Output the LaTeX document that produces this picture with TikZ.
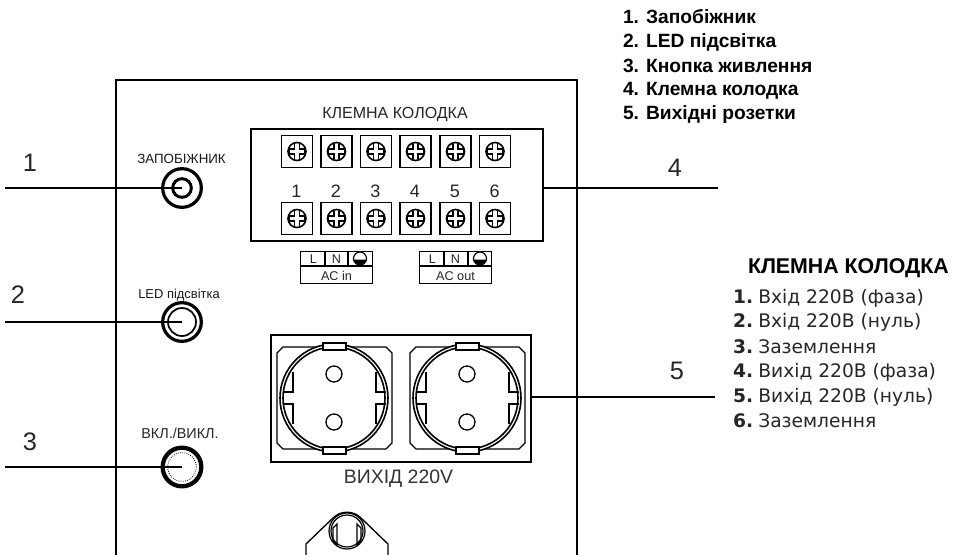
\documentclass[tikz,border=0pt]{standalone}
\usepackage{fontspec}
\setmainfont{Liberation Sans}
\newfontfamily\dejavu{DejaVu Sans}
\usetikzlibrary{calc}
\tikzset{
  x=0.75pt,y=-0.75pt,
  every node/.style={inner sep=0pt,outer sep=0pt},
  heavy/.style={draw=black,line width=1.7pt},
  med/.style={draw=black,line width=1.2pt},
  lead/.style={draw=black,line width=1.3pt},
  callout/.style={font=\fontsize{19}{22}\selectfont,text=black!85},
  caption/.style={font=\fontsize{12}{14}\selectfont,text=black!85},
  legend/.style={anchor=west,font=\fontsize{14.4}{16}\selectfont\bfseries},
  termlist/.style={anchor=west,font=\dejavu\fontsize{14}{16}\selectfont,text=black!85},
  terminal/.style={med,rectangle,minimum width=23.5pt,minimum height=24pt},
  acbox/.style={rectangle,draw=black,line width=0.9pt,minimum width=53.5pt,minimum height=24.5pt},
  actext/.style={font=\fontsize{9.5}{11}\selectfont,text=black!85},
  knob/.style={circle,draw=black,minimum size=#1},
  plate/.style={draw=black,line width=0.9pt},
}
\newcommand{\screw}[1]{%
  \draw[line width=1.2pt] (#1) circle (9);
  \draw[line width=.8pt] ($(#1)+(-2.5,-7.5)$) -- ++(0,5) -- ++(-5.5,0) -- ++(0,5) -- ++(5.5,0) -- ++(0,5)
    ($(#1)+(2.5,-7.5)$) -- ++(0,5) -- ++(5.5,0) -- ++(0,5) -- ++(-5.5,0) -- ++(0,5);
}
\newcommand{\socket}[2]{%
  \begin{scope}[xshift=#1*0.75pt]
  \draw[plate] (283,347) -- (386,347) -- (392,353) -- (392,443) -- (386,449) -- (283,449) -- (277,443) -- (277,353) -- cycle;
  \fill[white] (334,398) circle (54);
  \draw[line width=.9pt] (293,372) -- (293,392) -- (283,392) (293,424) -- (293,404) -- (283,404);
  \draw[line width=.9pt] (376,372) -- (376,392) -- (386,392) (376,424) -- (376,404) -- (386,404);
  \draw[line width=1.2pt] (334,398) circle (54);
  \draw[line width=1.2pt] (334,398) circle (51);
  \draw[line width=.9pt,fill=white] (323,350) rectangle (346,343);
  \draw[line width=.9pt,fill=white] (323,447) rectangle (346,454);
  \draw[line width=1pt] (334,374) circle (8);
  \draw[line width=1pt] (334,422) circle (8);
  \end{scope}
  \node[minimum size=1pt] (#2) at (334+#1,398) {};
}
\begin{document}
\begin{tikzpicture}
\useasboundingbox (0,0) rectangle (953,554);
\clip (0,0) rectangle (953,554);
\fill[white] (0,0) rectangle (953,554);

% panel
\draw[line width=1.3pt] (116,560) -- (116,80) -- (577,80) -- (577,560);

% terminal block
\node[heavy,rectangle,minimum width=219pt,minimum height=84pt] (block) at (397,185) {};
\node[caption] (blocktitle) at (395,115) {КЛЕМНА КОЛОДКА};
\foreach \i/\xx in {1/297,2/336.5,3/376,4/415.5,5/455.5,6/495}{
  \node[terminal] (top\i) at (\xx,151.5) {};
  \node[terminal] (bot\i) at (\xx,218.5) {};
  \screw{top\i}
  \screw{bot\i}
  \node[font=\fontsize{13.5}{15}\selectfont,text=black!85] (num\i) at (\xx-.5,191) {\i};
}

% AC in / AC out
\foreach \name/\lbl/\xl/\da/\db in {acin/AC in/301/325/348,acout/AC out/420/444/468}{
  \node[acbox] (\name) at (\xl+35.5,267.5) {};
  \draw[line width=.9pt] (\xl,266) -- (\xl+71,266) (\da,251) -- (\da,266) (\db,251) -- (\db,266);
  \node[actext] at (\xl+35.5,276) {\lbl};
  \node[actext] at (\xl+12.5,259) {L};
  \node[actext] at (\da+11.5,259) {N};
  \draw[line width=.9pt] (\db+12,258.5) circle (6.5);
  \fill (\db+6,259.5) -- (\db+18,259.5) arc (0:180:6) -- cycle;
  \draw[white,line width=.6pt] (\db+12,253) -- (\db+12,259);
  \draw[line width=.7pt] (\db+8,262) -- (\db+16,262);
}

% sockets
\node[med,rectangle,minimum width=195pt,minimum height=95.5pt] (outlets) at (401,398.5) {};
\socket{0}{sockA}
\socket{133}{sockB}
\node[font=\fontsize{14.6}{16}\selectfont,text=black!80] (outtitle) at (398.5,479) {ВИХІД 220V};

% inlet
\draw[line width=1pt] (306,560) -- (306,544) -- (333,518) arc (-135:-45:19.8) -- (388,544) -- (388,560);
\draw[line width=.9pt] (347,531) circle (18);
\draw[line width=.9pt] (347,531) circle (16);
\draw[line width=1pt] (337,524) -- (333,528) -- (333,541) -- (337,545) -- cycle;
\draw[line width=1pt] (357,524) -- (361,528) -- (361,541) -- (357,545) -- cycle;

% knobs
\node[knob=29pt,line width=2.4pt] (fuse) at (182,188) {};
\node[knob=14pt,line width=2.2pt] (fusein) at (182,188) {};
\node[font=\fontsize{10}{12}\selectfont,text=black!90] (fuselbl) at (181.5,159) {ЗАПОБІЖНИК};
\node[knob=29pt,line width=2.4pt] (led) at (182,322) {};
\node[knob=21pt,line width=1.3pt] (ledin) at (182,322) {};
\node[font=\fontsize{9.7}{12}\selectfont,text=black!90] (ledlbl) at (179,295) {LED підсвітка};
\node[knob=29pt,line width=3.2pt] (btn) at (182,467) {};
\node[knob=21.5pt,line width=.6pt,densely dotted] (btnin) at (182,467) {};
\node[font=\fontsize{10.8}{13}\selectfont,text=black!85] (btnlbl) at (180,433) {ВКЛ./ВИКЛ.};

% leaders
\coordinate (e1) at (5,188);
\coordinate (e2) at (5,322);
\coordinate (e3) at (5,467);
\coordinate (e4) at (718,188);
\coordinate (e5) at (715,397);
\draw[lead] (e1) -- (fuse.center);
\draw[lead] (e2) -- (led.center);
\draw[lead] (e3) -- (btn.center);
\draw[lead] (block.east |- e4) -- (e4);
\draw[lead] (outlets.east |- e5) -- (e5);

\node[callout] (c1) at (30,163) {1};
\node[callout] (c2) at (18,295) {2};
\node[callout] (c3) at (30,442) {3};
\node[callout] (c4) at (675,168) {4};
\node[callout] (c5) at (677,371) {5};

% legend
\node[legend] (l1) at (623,17) {1. Запобіжник};
\node[legend] (l2) at (623,42) {2. LED підсвітка};
\node[legend] (l3) at (623,66) {3. Кнопка живлення};
\node[legend] (l4) at (623,91) {4. Клемна колодка};
\node[legend] (l5) at (623,115) {5. Вихідні розетки};

\node[anchor=west,font=\fontsize{16}{18}\selectfont\bfseries] (lt) at (748,268) {КЛЕМНА КОЛОДКА};
\node[termlist] (t1) at (733,298) {\textbf{1.}\hspace{-2pt} Вхід 220В (фаза)};
\node[termlist] (t2) at (733,322) {\textbf{2.}\hspace{-2pt} Вхід 220В (нуль)};
\node[termlist] (t3) at (733,347) {\textbf{3.}\hspace{-2pt} Заземлення};
\node[termlist] (t4) at (733,372) {\textbf{4.}\hspace{-2pt} Вихід 220В (фаза)};
\node[termlist] (t5) at (733,397) {\textbf{5.}\hspace{-2pt} Вихід 220В (нуль)};
\node[termlist] (t6) at (733,421) {\textbf{6.}\hspace{-2pt} Заземлення};
\end{tikzpicture}
\end{document}
